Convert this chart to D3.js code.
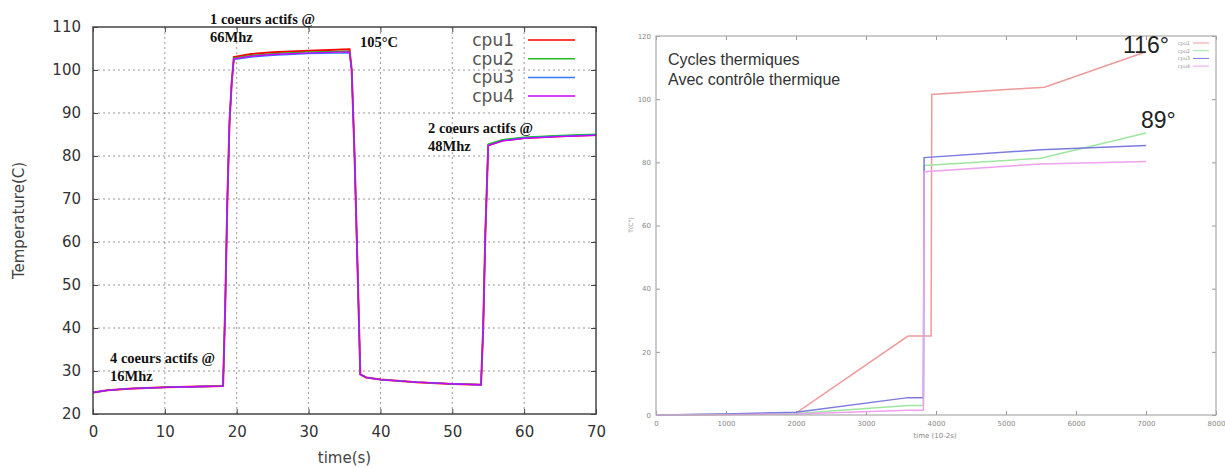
<!DOCTYPE html>
<html>
<head>
<meta charset="utf-8">
<script src="https://cdn.jsdelivr.net/npm/d3@7"></script>
<style>
  body { margin: 0; background: #fff; }
  svg { display: block; }
</style>
</head>
<body>
<div id="chart"></div>
<script>
// --- left chart: 4 cores, temperature vs time(s) ---
const leftTime = [0, 2, 5, 10, 15, 18.1, 18.4, 18.7, 19.0, 19.3, 19.6, 22, 25, 30, 35.7,
  36.0, 36.4, 36.8, 37.2, 38, 40, 45, 50, 54.0, 54.3, 54.6, 55.0, 57, 60, 65, 70];
const leftCpu1 = [25.0, 25.5, 25.9, 26.2, 26.4, 26.5, 45, 70, 88, 97, 103.0, 103.7, 104.1, 104.5, 104.8,
  100, 80, 55, 29.2, 28.5, 28.0, 27.4, 27.0, 26.8, 40, 62, 82.5, 83.6, 84.2, 84.6, 84.9];
const leftCpu2 = [25.0, 25.5, 25.9, 26.2, 26.4, 26.5, 45, 70, 88, 97, 102.8, 103.4, 103.8, 104.2, 104.4,
  100, 80, 55, 29.2, 28.5, 28.0, 27.4, 27.0, 26.8, 40, 62, 82.8, 83.8, 84.4, 84.8, 85.1];
const leftCpu3 = [25.0, 25.5, 25.9, 26.2, 26.4, 26.5, 45, 70, 88, 97, 102.4, 103.0, 103.4, 103.8, 104.0,
  100, 80, 55, 29.2, 28.5, 28.0, 27.4, 27.0, 26.8, 40, 62, 82.5, 83.6, 84.2, 84.6, 84.9];
const leftCpu4 = [25.0, 25.5, 25.9, 26.2, 26.4, 26.5, 45, 70, 88, 97, 102.6, 103.2, 103.6, 104.0, 104.2,
  100, 80, 55, 29.2, 28.5, 28.0, 27.4, 27.0, 26.8, 40, 62, 82.4, 83.5, 84.1, 84.5, 84.8];
const leftXTicks = [0, 10, 20, 30, 40, 50, 60, 70];
const leftYTicks = [20, 30, 40, 50, 60, 70, 80, 90, 100, 110];

// --- right chart: thermal cycles with thermal control ---
const rightTime1 = [0, 1000, 2000, 3600, 3930, 3940, 5550, 7000];
const rightCpu1 = [0, 0.2, 0.6, 25, 25, 101.5, 103.8, 115];
const rightTime234 = [0, 1000, 2000, 3600, 3820, 3830, 5500, 7000];
const rightCpu2 = [0, 0.2, 0.5, 3, 3, 79, 81.3, 89.3];
const rightCpu3 = [0, 0.3, 0.9, 5.5, 5.5, 81.5, 84, 85.3];
const rightCpu4 = [0, 0.1, 0.3, 1.5, 1.5, 77, 79.5, 80.3];
const rightXTicks = [0, 1000, 2000, 3000, 4000, 5000, 6000, 7000, 8000];
const rightYTicks = [0, 20, 40, 60, 80, 100, 120];

const seriesNames = ['cpu1', 'cpu2', 'cpu3', 'cpu4'];
const leftColors = ['#ff0000', '#22bb22', '#3377ff', '#cc00ff'];
const rightColors = ['#ee9a9a', '#9fe69f', '#7b7be0', '#f0a0f0'];

const svg = d3.select('#chart').append('svg')
  .attr('width', 1225).attr('height', 468);

// ================= LEFT =================
const L = { x0: 93, x1: 596, y0: 27, y1: 414 };
const lx = d3.scaleLinear().domain([0, 70]).range([L.x0, L.x1]);
const ly = d3.scaleLinear().domain([20, 110]).range([L.y1, L.y0]);
const lg = svg.append('g');

// grid
lg.selectAll('.gx').data(leftXTicks.slice(1, -1)).enter().append('line')
  .attr('x1', d => lx(d)).attr('x2', d => lx(d)).attr('y1', L.y0).attr('y2', L.y1)
  .attr('stroke', '#999').attr('stroke-dasharray', '2,3');
lg.selectAll('.gy').data(leftYTicks.slice(1, -1)).enter().append('line')
  .attr('x1', L.x0).attr('x2', L.x1).attr('y1', d => ly(d)).attr('y2', d => ly(d))
  .attr('stroke', '#999').attr('stroke-dasharray', '2,3');

// axes (ticks inside)
const tickFont = g => g.selectAll('text')
  .style('font-family', 'DejaVu Sans').style('font-size', '15px').attr('fill', '#333');
lg.append('g').attr('transform', `translate(0,${L.y1})`)
  .call(d3.axisBottom(lx).tickValues(leftXTicks).tickSizeInner(-5).tickSizeOuter(0).tickPadding(12))
  .call(g => g.select('.domain').remove())
  .call(g => g.selectAll('line').attr('stroke', '#444'))
  .call(tickFont);
lg.append('g').attr('transform', `translate(${L.x0},0)`)
  .call(d3.axisLeft(ly).tickValues(leftYTicks).tickSizeInner(-5).tickSizeOuter(0).tickPadding(12))
  .call(g => g.select('.domain').remove())
  .call(g => g.selectAll('line').attr('stroke', '#444'))
  .call(tickFont);
lg.append('g').attr('transform', `translate(0,${L.y0})`)
  .call(d3.axisTop(lx).tickValues(leftXTicks).tickSizeInner(-5).tickSizeOuter(0).tickFormat(''))
  .call(g => g.select('.domain').remove())
  .call(g => g.selectAll('line').attr('stroke', '#444'));
lg.append('g').attr('transform', `translate(${L.x1},0)`)
  .call(d3.axisRight(ly).tickValues(leftYTicks).tickSizeInner(-5).tickSizeOuter(0).tickFormat(''))
  .call(g => g.select('.domain').remove())
  .call(g => g.selectAll('line').attr('stroke', '#444'));

// lines
const leftSeries = [leftCpu1, leftCpu2, leftCpu3, leftCpu4];
const lline = d3.line().x(d => lx(d[0])).y(d => ly(d[1]));
leftSeries.forEach((vals, i) => {
  lg.append('path')
    .datum(leftTime.map((t, k) => [t, vals[k]]))
    .attr('fill', 'none').attr('stroke', leftColors[i])
    .attr('stroke-width', i === 0 ? 2 : 1.3)
    .attr('d', lline);
});

// frame
lg.append('rect').attr('x', L.x0).attr('y', L.y0)
  .attr('width', L.x1 - L.x0).attr('height', L.y1 - L.y0)
  .attr('fill', 'none').attr('stroke', '#444').attr('stroke-width', 1.5);

// legend
seriesNames.forEach((n, i) => {
  const yy = 40 + i * 18.7;
  lg.append('text').attr('x', 514).attr('y', yy + 6).attr('text-anchor', 'end')
    .style('font-family', 'DejaVu Sans').style('font-size', '17px').attr('fill', '#555').text(n);
  lg.append('line').attr('x1', 528).attr('x2', 575).attr('y1', yy).attr('y2', yy)
    .attr('stroke', leftColors[i]).attr('stroke-width', 1.5);
});

// axis labels
lg.append('text').attr('x', (L.x0 + L.x1) / 2).attr('y', 463).attr('text-anchor', 'middle')
  .style('font-family', 'DejaVu Sans').style('font-size', '15px').attr('fill', '#444').text('time(s)');
lg.append('text').attr('transform', `translate(24,${(L.y0 + L.y1) / 2}) rotate(-90)`)
  .attr('text-anchor', 'middle')
  .style('font-family', 'DejaVu Sans').style('font-size', '15px').attr('fill', '#444').text('Temperature(C)');

// annotations
const notes = [
  { x: 210, y: 24, t: '1 coeurs actifs @' }, { x: 210, y: 42, t: '66Mhz' },
  { x: 360, y: 47, t: '105°C' },
  { x: 428, y: 133, t: '2 coeurs actifs @' }, { x: 428, y: 151, t: '48Mhz' },
  { x: 110, y: 363, t: '4 coeurs actifs @' }, { x: 110, y: 381, t: '16Mhz' }
];
lg.selectAll('.note').data(notes).enter().append('text')
  .attr('x', d => d.x).attr('y', d => d.y)
  .style('font-family', 'Liberation Serif').style('font-weight', 'bold').style('font-size', '14.5px')
  .attr('fill', '#111').text(d => d.t);

// ================= RIGHT =================
const R = { x0: 656, x1: 1216, y0: 36, y1: 415 };
const rx = d3.scaleLinear().domain([0, 8000]).range([R.x0, R.x1]);
const ry = d3.scaleLinear().domain([0, 120]).range([R.y1, R.y0]);
const rg = svg.append('g');

const smallFont = g => g.selectAll('text')
  .style('font-family', 'DejaVu Sans').style('font-size', '7px').attr('fill', '#888');
rg.append('g').attr('transform', `translate(0,${R.y1})`)
  .call(d3.axisBottom(rx).tickValues(rightXTicks).tickFormat(d3.format('d'))
    .tickSizeInner(-4).tickSizeOuter(0).tickPadding(6))
  .call(g => g.select('.domain').remove())
  .call(g => g.selectAll('line').attr('stroke', '#999'))
  .call(smallFont);
rg.append('g').attr('transform', `translate(${R.x0},0)`)
  .call(d3.axisLeft(ry).tickValues(rightYTicks).tickSizeInner(-4).tickSizeOuter(0).tickPadding(5))
  .call(g => g.select('.domain').remove())
  .call(g => g.selectAll('line').attr('stroke', '#999'))
  .call(smallFont);
rg.append('g').attr('transform', `translate(0,${R.y0})`)
  .call(d3.axisTop(rx).tickValues(rightXTicks).tickSizeInner(-4).tickSizeOuter(0).tickFormat(''))
  .call(g => g.select('.domain').remove())
  .call(g => g.selectAll('line').attr('stroke', '#999'));
rg.append('g').attr('transform', `translate(${R.x1},0)`)
  .call(d3.axisRight(ry).tickValues(rightYTicks).tickSizeInner(-4).tickSizeOuter(0).tickFormat(''))
  .call(g => g.select('.domain').remove())
  .call(g => g.selectAll('line').attr('stroke', '#999'));

const rightSeries = [
  [rightTime1, rightCpu1], [rightTime234, rightCpu2],
  [rightTime234, rightCpu3], [rightTime234, rightCpu4]
];
const rline = d3.line().x(d => rx(d[0])).y(d => ry(d[1]));
rightSeries.forEach(([ts, vals], i) => {
  rg.append('path')
    .datum(ts.map((t, k) => [t, vals[k]]))
    .attr('fill', 'none').attr('stroke', rightColors[i]).attr('stroke-width', 1.5)
    .attr('d', rline);
});

rg.append('rect').attr('x', R.x0).attr('y', R.y0)
  .attr('width', R.x1 - R.x0).attr('height', R.y1 - R.y0)
  .attr('fill', 'none').attr('stroke', '#aaa').attr('stroke-width', 1.2);

// tiny legend
seriesNames.forEach((n, i) => {
  const yy = 43 + i * 7.7;
  rg.append('text').attr('x', 1190).attr('y', yy + 2).attr('text-anchor', 'end')
    .style('font-family', 'DejaVu Sans').style('font-size', '5px').attr('fill', '#999').text(n);
  rg.append('line').attr('x1', 1193).attr('x2', 1209).attr('y1', yy).attr('y2', yy)
    .attr('stroke', rightColors[i]).attr('stroke-width', 1);
});

rg.append('text').attr('x', 935).attr('y', 438).attr('text-anchor', 'middle')
  .style('font-family', 'DejaVu Sans').style('font-size', '7px').attr('fill', '#888').text('time (10-2s)');
rg.append('text').attr('transform', `translate(633,225) rotate(-90)`).attr('text-anchor', 'middle')
  .style('font-family', 'DejaVu Sans').style('font-size', '6px').attr('fill', '#888').text('T(C°)');

rg.append('text').attr('x', 668).attr('y', 65)
  .style('font-family', 'Liberation Sans').style('font-size', '16px').attr('fill', '#333').text('Cycles thermiques');
rg.append('text').attr('x', 668).attr('y', 85)
  .style('font-family', 'Liberation Sans').style('font-size', '16px').attr('fill', '#333').text('Avec contrôle thermique');
rg.append('text').attr('x', 1123).attr('y', 53)
  .style('font-family', 'Liberation Sans').style('font-size', '23px').attr('fill', '#222').text('116°');
rg.append('text').attr('x', 1141).attr('y', 128)
  .style('font-family', 'Liberation Sans').style('font-size', '23px').attr('fill', '#222').text('89°');
</script>
</body>
</html>
